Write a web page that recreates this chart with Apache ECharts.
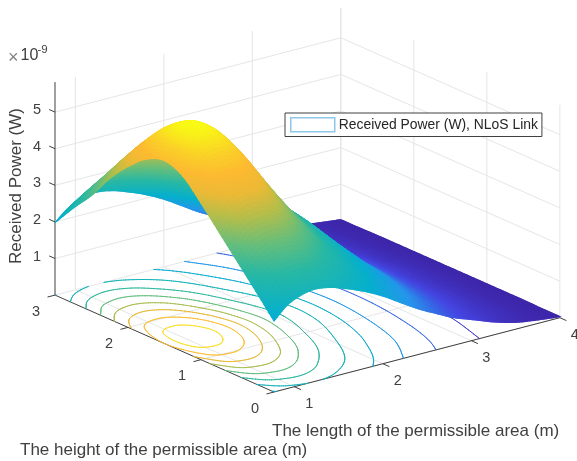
<!DOCTYPE html>
<html><head><meta charset="utf-8">
<style>html,body{margin:0;padding:0;background:#fff}#c{width:577px;height:461px}</style>
<script src="https://cdn.jsdelivr.net/npm/echarts@6/dist/echarts.min.js"></script>
</head><body><div id="c"></div>
<script>
const xTicks=[1,2,3,4];
const yTicks=[0,1,2,3];
const zTicks=[1,2,3,4,5];
const xRange=[0.77,4];
const yRange=[0,3];
const zRange=[0,5.82];
const contourLevels=[0.5,1,1.5,2,2.5,3,3.5,4,4.5,5,5.5];
const xValues=[0.77,0.92,1.07,1.22,1.4,1.6,1.8,2.0,2.2,2.4,2.6,2.8,3.0,3.25,3.5,3.75,4.0];
const yValues=[0,0.25,0.5,0.75,1,1.25,1.5,1.75,2,2.25,2.5,2.75,3];
const zRows=[
[1.94,2.54,3.12,3.70,4.28,4.80,5.00,4.82,4.40,3.85,3.17,2.60,1.98],
[2.28,2.95,3.60,4.27,4.90,5.42,5.62,5.42,4.90,4.27,3.60,2.95,2.28],
[2.45,3.12,3.76,4.44,5.04,5.58,5.82,5.58,5.04,4.44,3.76,3.12,2.45],
[2.52,3.16,3.77,4.41,4.98,5.50,5.72,5.50,4.98,4.41,3.77,3.16,2.52],
[2.46,3.03,3.57,4.14,4.65,5.10,5.30,5.10,4.65,4.14,3.57,3.03,2.46],
[2.30,2.75,3.18,3.63,4.03,4.39,4.55,4.39,4.03,3.63,3.18,2.75,2.30],
[2.10,2.46,2.79,3.11,3.39,3.63,3.75,3.63,3.39,3.11,2.79,2.46,2.10],
[1.85,2.14,2.40,2.64,2.86,3.06,3.15,3.06,2.86,2.64,2.40,2.14,1.85],
[1.55,1.80,2.03,2.25,2.45,2.62,2.70,2.62,2.45,2.25,2.03,1.80,1.55],
[1.25,1.48,1.68,1.84,1.99,2.10,2.15,2.10,1.99,1.84,1.68,1.48,1.25],
[1.00,1.17,1.31,1.43,1.53,1.61,1.65,1.61,1.53,1.43,1.31,1.17,1.00],
[0.76,0.88,0.98,1.06,1.13,1.18,1.20,1.18,1.13,1.06,0.98,0.88,0.76],
[0.58,0.65,0.72,0.77,0.81,0.84,0.85,0.84,0.81,0.77,0.72,0.65,0.58],
[0.36,0.42,0.47,0.50,0.52,0.54,0.55,0.54,0.52,0.50,0.47,0.42,0.36],
[0.19,0.24,0.27,0.29,0.30,0.31,0.32,0.31,0.30,0.29,0.27,0.24,0.19],
[0.10,0.11,0.12,0.13,0.14,0.15,0.15,0.15,0.14,0.13,0.12,0.11,0.10],
[0.03,0.03,0.04,0.04,0.04,0.04,0.04,0.04,0.04,0.04,0.04,0.03,0.03]
];
const seriesName='Received Power (W), NLoS Link';
const xTitle='The length of the permissible area (m)';
const yTitle='The height of the permissible area (m)';
const zTitle='Received Power (W)';

// orthographic view of the 3D box
const view={x0:274,y0:392,xx:88.5,xy:-23,yx:-73,yy:-32.3,zy:-36.6};
function project(x,y,z){const u=x-xRange[0];
  return [view.x0+u*view.xx+y*view.yx, view.y0+u*view.xy+y*view.yy+z*view.zy];}
const parula=[[0,62,38,168],[.11,70,70,225],[.24,39,150,235],[.36,7,176,205],[.5,40,184,165],[.6,100,190,125],[.7,180,190,75],[.78,235,186,55],[.85,253,186,50],[.92,250,210,40],[1,249,251,21]];
function color(z){let t=Math.max(0,Math.min(1,(z-0.03)/(5.82-0.03)));
  for(let i=1;i<parula.length;i++){if(t<=parula[i][0]){const a=parula[i-1],b=parula[i],k=(t-a[0])/(b[0]-a[0]);
    return 'rgb('+[1,2,3].map(c=>Math.round(a[c]+(b[c]-a[c])*k)).join(',')+')';}}
  return 'rgb(249,251,21)';}
// smooth display sampling of the value table
function cr(p0,p1,p2,p3,t){return 0.5*(2*p1+(p2-p0)*t+(2*p0-5*p1+4*p2-p3)*t*t+(3*p1-p0-3*p2+p3)*t*t*t);}
function at(i,j){const n=xValues.length,m=yValues.length;
  const ei=i<0?0:(i>=n?n-1:i), ej=j<0?0:(j>=m?m-1:j);
  let v=zRows[ei][ej];
  if(i<0)v+=i*(zRows[1][ej]-zRows[0][ej]);
  if(i>=n)v+=(i-n+1)*(zRows[n-1][ej]-zRows[n-2][ej]);
  if(j<0)v+=j*(zRows[ei][1]-zRows[ei][0]);
  if(j>=m)v+=(j-m+1)*(zRows[ei][m-1]-zRows[ei][m-2]);
  return v;}
function sample(s,t){const i=Math.min(Math.floor(s),xValues.length-2),j=Math.min(Math.floor(t),yValues.length-2),a=s-i,b=t-j;
  const col=[];for(let k=-1;k<=2;k++)col.push(cr(at(i+k,j-1),at(i+k,j),at(i+k,j+1),at(i+k,j+2),b));
  return cr(col[0],col[1],col[2],col[3],a);}
function xAt(s){const i=Math.min(Math.floor(s),xValues.length-2);return xValues[i]+(xValues[i+1]-xValues[i])*(s-i);}
function yAt(t){const j=Math.min(Math.floor(t),yValues.length-2);return yValues[j]+(yValues[j+1]-yValues[j])*(t-j);}
function mesh(subX,subY){const N=(xValues.length-1)*subX,M=(yValues.length-1)*subY,pts=[];
  for(let i=0;i<=N;i++){const r=[];for(let j=0;j<=M;j++){const s=i/subX,t=j/subY;r.push([xAt(s),yAt(t),sample(s,t)]);}pts.push(r);}
  return {N,M,pts};}
// surface quads, far to near
const surf=mesh(8,7),quads=[];
for(let i=0;i<surf.N;i++)for(let j=0;j<surf.M;j++){
  const c=[surf.pts[i][j],surf.pts[i+1][j],surf.pts[i+1][j+1],surf.pts[i][j+1]];
  const m=[0,1,2].map(k=>(c[0][k]+c[1][k]+c[2][k]+c[3][k])/4);
  quads.push({c,z:m[2],d:m[0]+1.212*m[1]-1.7*m[2]});}
quads.sort((a,b)=>b.d-a.d);
// contour segments on the floor
const fine=mesh(10,8),segs=contourLevels.map(()=>[]);
contourLevels.forEach((lv,li)=>{
  for(let i=0;i<fine.N;i++)for(let j=0;j<fine.M;j++){
    const c=[fine.pts[i][j],fine.pts[i+1][j],fine.pts[i+1][j+1],fine.pts[i][j+1]],hit=[];
    for(let k=0;k<4;k++){const p=c[k],q=c[(k+1)%4];
      if((p[2]<lv)!==(q[2]<lv)){const f=(lv-p[2])/(q[2]-p[2]);hit.push([p[0]+(q[0]-p[0])*f,p[1]+(q[1]-p[1])*f]);}}
    if(hit.length>=2)segs[li].push([hit[0],hit[1]]);
    if(hit.length===4)segs[li].push([hit[2],hit[3]]);
  }});
// box, grid lines, ticks, labels
const GRID='#e6e6e6',AX='#404040',xMin=xRange[0],xMax=xRange[1],yMax=yRange[1],zMax=zRange[1];
const lines=[];
function L(a,b,c){lines.push({a:project(...a),b:project(...b),c});}
xTicks.forEach(x=>{L([x,0,0],[x,yMax,0],GRID);L([x,yMax,0],[x,yMax,zMax],GRID);});
yTicks.forEach(y=>{L([xMin,y,0],[xMax,y,0],GRID);L([xMax,y,0],[xMax,y,zMax],GRID);});
zTicks.forEach(z=>{L([xMin,yMax,z],[xMax,yMax,z],GRID);L([xMax,yMax,z],[xMax,0,z],GRID);});
L([xMin,0,0],[xMax,0,0],AX);L([xMin,0,0],[xMin,yMax,0],AX);L([xMin,yMax,0],[xMin,yMax,zMax],AX);
xTicks.forEach(x=>L([x,0,0],[x,-0.09,0],AX));
yTicks.forEach(y=>L([xMin,y,0],[xMin-0.085,y,0],AX));
zTicks.forEach(z=>L([xMin,yMax,z],[xMin,yMax+0.08,z],AX));
const labels=[];
xTicks.forEach(x=>{const p=project(x,0,0);labels.push({t:String(x),x:p[0]+15,y:p[1]+17});});
yTicks.forEach(y=>{const p=project(xMin,y,0);labels.push({t:String(y),x:p[0]-19,y:p[1]+16.5});});
zTicks.forEach(z=>{const p=project(xMin,yMax,z);labels.push({t:String(z),x:p[0]-18,y:p[1]-2});});

const FONT='"Liberation Sans",Arial,sans-serif';
const chart=echarts.init(document.getElementById('c'),null,{renderer:'canvas'});
chart.setOption({
  animation:false,backgroundColor:'#fff',
  legend:{left:285,top:113,orient:'horizontal',padding:[4,4,4,5],itemWidth:44,itemHeight:14,
    backgroundColor:'#fff',borderColor:'#404040',borderWidth:1,borderRadius:0,
    textStyle:{fontFamily:FONT,fontSize:13.9,color:'#262626',padding:[0,0,0,-1]},
    data:[{name:seriesName,icon:'rect',itemStyle:{color:'#fff',borderColor:'#8cc8ea',borderWidth:1.5}}]},
  graphic:[
    {type:'text',left:272,top:423,silent:true,style:{text:xTitle,font:'17px '+FONT,fill:'#404040'}},
    {type:'text',left:20,top:442,silent:true,style:{text:yTitle,font:'17px '+FONT,fill:'#404040'}},
    {type:'text',x:16,y:186,rotation:Math.PI/2,silent:true,style:{text:zTitle,font:'17px '+FONT,fill:'#404040',align:'center',verticalAlign:'middle'}},
    {type:'text',x:8,y:58,silent:true,style:{text:'×',font:'18px '+FONT,fill:'#808080',verticalAlign:'middle'}},
    {type:'text',x:20.5,y:56,silent:true,style:{text:'10',font:'16px '+FONT,fill:'#404040',verticalAlign:'middle'}},
    {type:'text',x:37.5,y:50,silent:true,style:{text:'-9',font:'11.5px '+FONT,fill:'#404040',verticalAlign:'middle'}}
  ],
  series:[
    {type:'custom',name:'axes',coordinateSystem:'none',silent:true,z:1,data:lines.map((_,i)=>i),
     renderItem(p){const l=lines[p.dataIndex];return {type:'line',shape:{x1:l.a[0],y1:l.a[1],x2:l.b[0],y2:l.b[1]},style:{stroke:l.c,lineWidth:1}};}},
    {type:'custom',name:'ticks',coordinateSystem:'none',silent:true,z:1,data:labels.map((_,i)=>i),
     renderItem(p){const l=labels[p.dataIndex];return {type:'text',style:{text:l.t,x:l.x,y:l.y,font:'14.5px '+FONT,fill:'#404040',align:'center',verticalAlign:'middle'}};}},
    {type:'custom',name:'contour',coordinateSystem:'none',silent:true,z:2,progressive:0,data:contourLevels,
     renderItem(p){const li=p.dataIndex,col=color(contourLevels[li]);
       return {type:'group',children:segs[li].map(s=>{const a=project(s[0][0],s[0][1],0),b=project(s[1][0],s[1][1],0);
         return {type:'line',shape:{x1:a[0],y1:a[1],x2:b[0],y2:b[1]},style:{stroke:col,lineWidth:1,lineCap:'round'}};})};}},
    {type:'custom',name:seriesName,coordinateSystem:'none',silent:true,z:3,progressive:0,
     data:quads.map(q=>q.z),
     renderItem(p){const q=quads[p.dataIndex],col=color(q.z);
       return {type:'polygon',z2:p.dataIndex,shape:{points:q.c.map(v=>project(v[0],v[1],v[2]))},style:{fill:col,stroke:col,lineWidth:1.2}};}}
  ]
});
</script></body></html>
